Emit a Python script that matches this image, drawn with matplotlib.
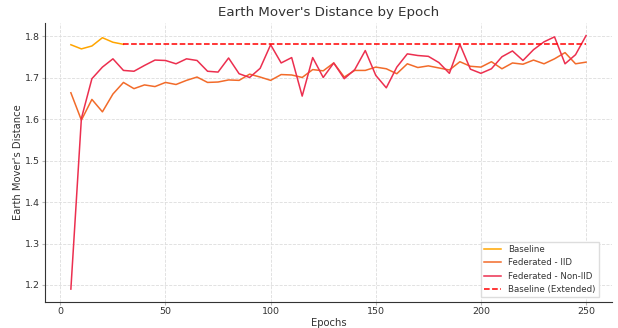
import numpy as np
import matplotlib
matplotlib.use("Agg")
import matplotlib.pyplot as plt

# Data
epochs = list(range(5, 255, 5))

baselineEpochs = [5, 10, 15, 20, 25, 30]
baselineEmd = [1.780, 1.770, 1.777, 1.797, 1.786, 1.781]

iidEmd = [1.664, 1.598, 1.648, 1.618, 1.661, 1.689, 1.674, 1.683, 1.679, 1.689,
          1.684, 1.694, 1.702, 1.689, 1.690, 1.695, 1.694, 1.709, 1.702, 1.694,
          1.708, 1.707, 1.701, 1.720, 1.717, 1.736, 1.702, 1.718, 1.718, 1.726,
          1.722, 1.710, 1.734, 1.725, 1.729, 1.724, 1.719, 1.739, 1.728, 1.726,
          1.739, 1.722, 1.736, 1.733, 1.743, 1.734, 1.746, 1.761, 1.734, 1.738]

nonIidEmd = [1.190, 1.602, 1.698, 1.726, 1.746, 1.718, 1.716, 1.730, 1.743, 1.742,
             1.734, 1.746, 1.742, 1.716, 1.714, 1.748, 1.710, 1.701, 1.723, 1.780,
             1.736, 1.749, 1.656, 1.749, 1.701, 1.736, 1.698, 1.720, 1.766, 1.706,
             1.676, 1.726, 1.758, 1.754, 1.752, 1.737, 1.711, 1.781, 1.721, 1.711,
             1.722, 1.751, 1.765, 1.742, 1.768, 1.787, 1.799, 1.734, 1.756, 1.802]

extendedEpochs = [30, 250]
extendedEmd = [1.781, 1.781]

# Plot
fig, ax = plt.subplots(figsize=(6.18, 3.28), dpi=100)
ax.plot(baselineEpochs, baselineEmd, color='#FFA500', linewidth=1.1, label='Baseline')
ax.plot(epochs, iidEmd, color='#F26B2A', linewidth=1.1, label='Federated - IID')
ax.plot(epochs, nonIidEmd, color='#EC2F4F', linewidth=1.1, label='Federated - Non-IID')
ax.plot(extendedEpochs, extendedEmd, color='red', linestyle='--', linewidth=1.1, label='Baseline (Extended)')

textColor = '#333333'
ax.set_title("Earth Mover's Distance by Epoch", fontsize=9.6, color=textColor, pad=5)
ax.set_xlabel("Epochs", fontsize=7.2, color=textColor, labelpad=1)
ax.set_ylabel("Earth Mover's Distance", fontsize=7.2, color=textColor, labelpad=1)
ax.tick_params(labelsize=6.8, colors=textColor, length=2, pad=2, color='#bbbbbb')
ax.set_xticks([0, 50, 100, 150, 200, 250])

ax.grid(True, linestyle='--', color='#dddddd', linewidth=0.6)
ax.spines['top'].set_visible(False)
ax.spines['right'].set_visible(False)
ax.spines['left'].set_color('#333333')
ax.spines['bottom'].set_color('#333333')

leg = ax.legend(loc='lower right', fontsize=6.2, fancybox=False, framealpha=1,
                bbox_to_anchor=(0.985, 0.0))
leg.get_frame().set_edgecolor('#dddddd')
for t in leg.get_texts():
    t.set_color(textColor)

fig.subplots_adjust(left=0.073, right=0.99, top=0.93, bottom=0.08)
fig.savefig('out.png', dpi=100)
plt.close(fig)
